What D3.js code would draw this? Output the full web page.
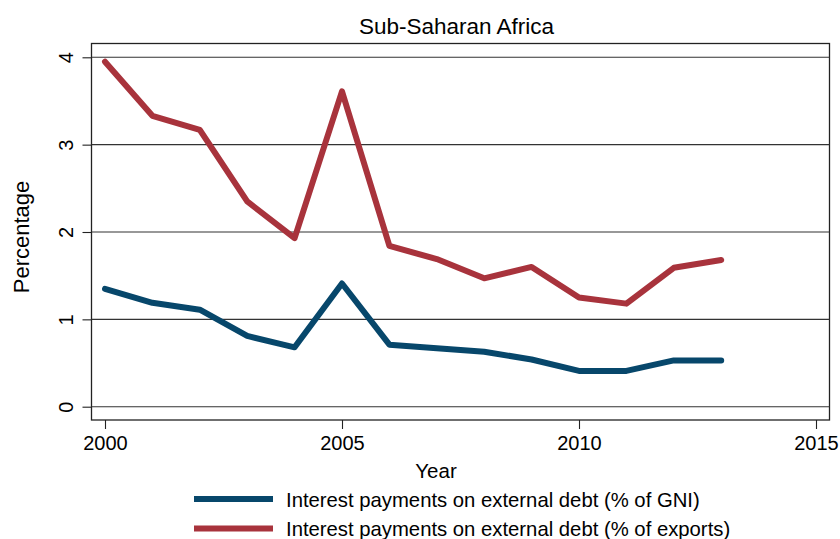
<!DOCTYPE html>
<html><head><meta charset="utf-8">
<script src="https://cdn.jsdelivr.net/npm/d3@7"></script>
<style>body{margin:0;background:#fff}svg{display:block}text{font-family:"Liberation Sans",Arial,Helvetica,sans-serif;fill:#000}</style>
</head><body>
<svg id="c" width="840" height="539"></svg>
<script>
const years = [2000,2001,2002,2003,2004,2005,2006,2007,2008,2009,2010,2011,2012,2013];
const gniValues = [1.35,1.19,1.11,0.81,0.68,1.41,0.71,0.67,0.63,0.54,0.41,0.41,0.53,0.53];
const exportsValues = [3.95,3.33,3.17,2.35,1.93,3.61,1.84,1.69,1.47,1.60,1.25,1.18,1.59,1.68];
const xTicks = [2000,2005,2010,2015];
const yTicks = [0,1,2,3,4];
const seriesNames = ["Interest payments on external debt (% of GNI)","Interest payments on external debt (% of exports)"];
const colors = ["#07476b","#a8333c"];

const svg = d3.select("#c");
const L=91.5, R=829.5, T=43.5, B=420;
const x = d3.scaleLinear().domain([2000,2015]).range([105,816]);
const y = d3.scaleLinear().domain([0,4]).range([406.7,57.3]);

// frame
svg.append("rect").attr("x",L).attr("y",T).attr("width",R-L).attr("height",B-T)
  .attr("fill","none").attr("stroke","#222").attr("stroke-width",1.3);

// gridlines
svg.append("g").selectAll("line").data(yTicks).join("line")
  .attr("x1",L).attr("x2",R).attr("y1",d=>y(d)).attr("y2",d=>y(d))
  .attr("stroke","#333").attr("stroke-width",1.1);

// y axis
const ya = svg.append("g").attr("transform",`translate(${L},0)`)
  .call(d3.axisLeft(y).tickValues(yTicks).tickSize(9).tickPadding(0).tickFormat(d3.format("d")));
ya.select(".domain").remove();
ya.selectAll("line").attr("stroke","#222").attr("stroke-width",1.1);
ya.selectAll("text").attr("transform","translate(-25.5,0) rotate(-90)").attr("text-anchor","middle")
  .attr("dy","0.36em").attr("x",0).attr("y",0).attr("font-size",20).style("font-size","20px");

// x axis
const xa = svg.append("g").attr("transform",`translate(0,${B})`)
  .call(d3.axisBottom(x).tickValues(xTicks).tickSize(9).tickPadding(7).tickFormat(d3.format("d")));
xa.select(".domain").remove();
xa.selectAll("line").attr("stroke","#222").attr("stroke-width",1.1);
xa.selectAll("text").attr("font-size",20).style("font-size","20px").attr("dy","0.71em");

// lines
const line = d3.line().x((d,i)=>x(years[i])).y(d=>y(d));
[gniValues, exportsValues].forEach((vals,k)=>{
  svg.append("path").datum(vals).attr("d",line).attr("fill","none")
    .attr("stroke",colors[k]).attr("stroke-width",6).attr("stroke-linejoin","round").attr("stroke-linecap","round");
});

// title and axis labels
svg.append("text").attr("x",456.5).attr("y",34).attr("text-anchor","middle").style("font-size","22.5px").text("Sub-Saharan Africa");
svg.append("text").attr("transform","translate(29,237) rotate(-90)").attr("text-anchor","middle").style("font-size","22px").text("Percentage");
svg.append("text").attr("x",436).attr("y",478).attr("text-anchor","middle").style("font-size","20.5px").text("Year");

// legend
const lg = svg.append("g");
seriesNames.forEach((name,k)=>{
  const yy = 499 + k*29.5;
  lg.append("line").attr("x1",194).attr("x2",273).attr("y1",yy).attr("y2",yy).attr("stroke",colors[k]).attr("stroke-width",6);
  lg.append("text").attr("x",286).attr("y",yy+7.5).style("font-size","20.3px").text(name);
});
</script>
</body></html>
